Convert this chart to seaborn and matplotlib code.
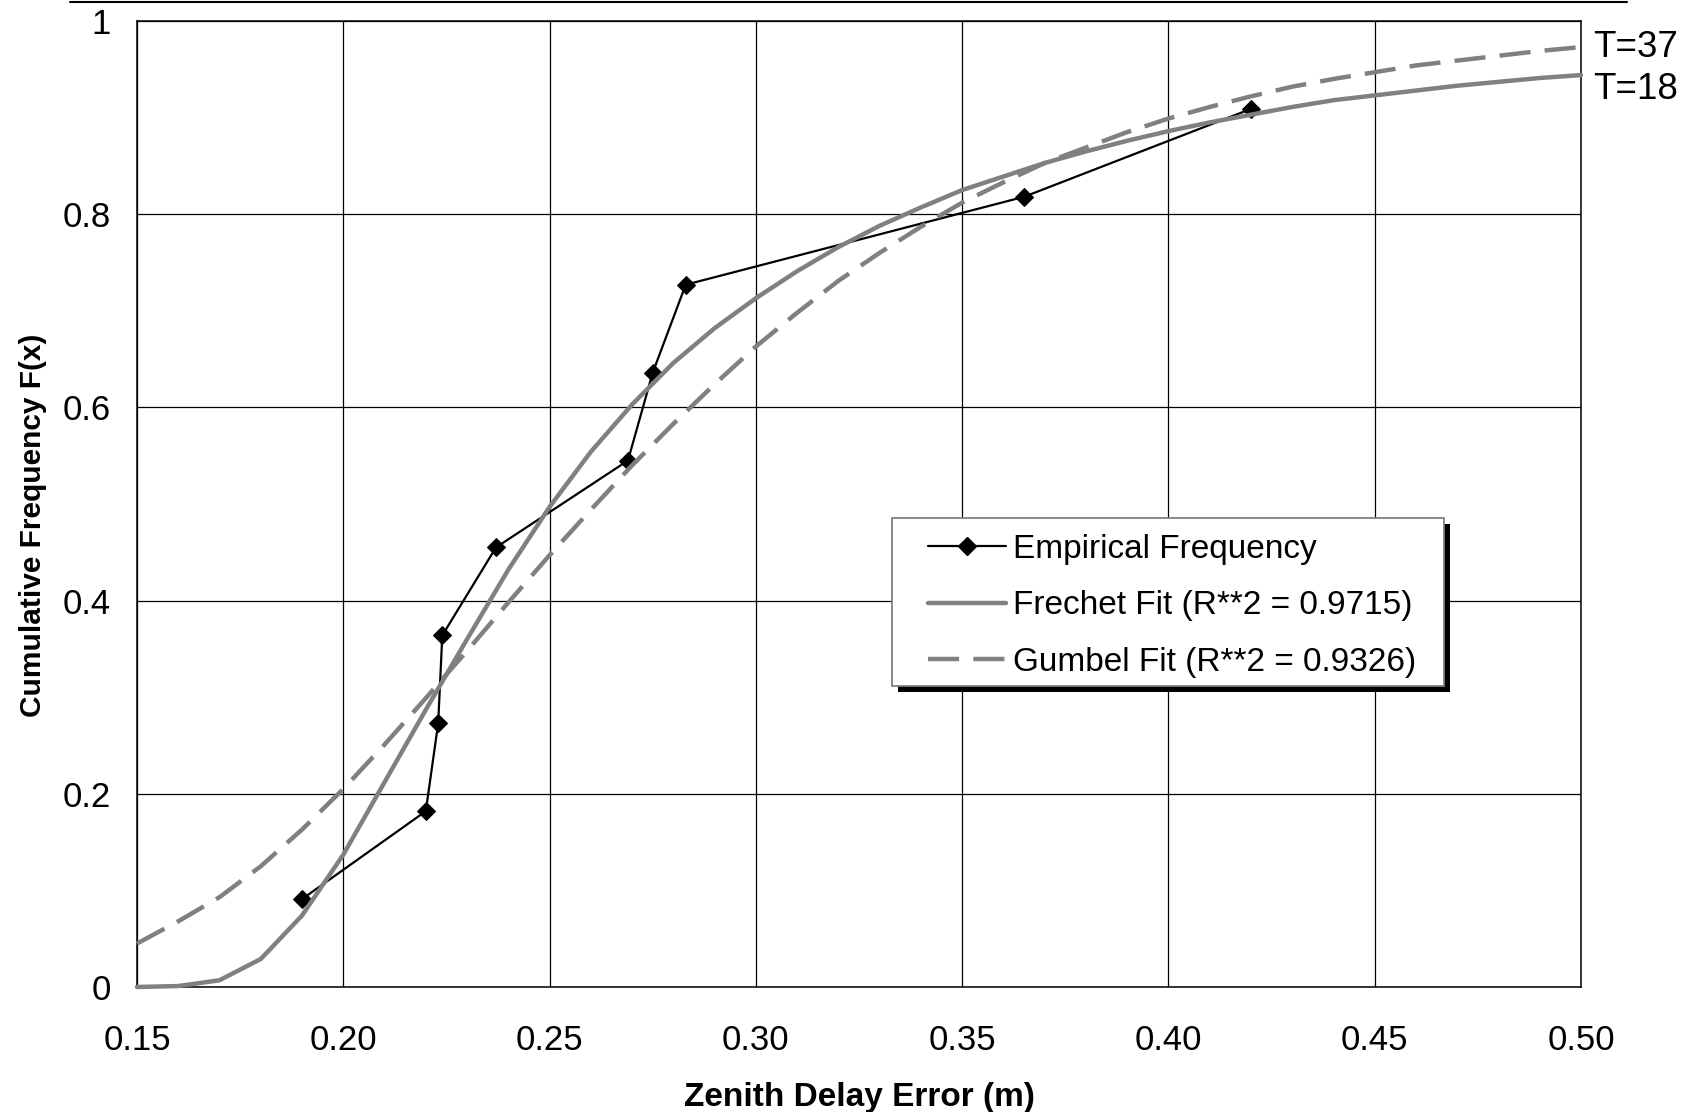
import matplotlib
matplotlib.use("Agg")
import matplotlib.pyplot as plt
from matplotlib.lines import Line2D
from matplotlib.patches import Rectangle
import seaborn as sns

# Zenith delay error grid (m) at which the fitted distributions are tabulated
zenith_grid = [0.15, 0.16, 0.17, 0.18, 0.19, 0.20, 0.21, 0.22, 0.23, 0.24,
               0.25, 0.26, 0.27, 0.28, 0.29, 0.30, 0.31, 0.32, 0.33, 0.34,
               0.35, 0.36, 0.37, 0.38, 0.39, 0.40, 0.41, 0.42, 0.43, 0.44,
               0.45, 0.46, 0.47, 0.48, 0.49, 0.50]

# Fitted cumulative distributions
frechet_cdf = [0.000, 0.001, 0.007, 0.029, 0.074, 0.137, 0.212, 0.287, 0.360, 0.432,
               0.497, 0.554, 0.603, 0.646, 0.682, 0.713, 0.741, 0.766, 0.788, 0.807,
               0.825, 0.839, 0.853, 0.865, 0.876, 0.886, 0.895, 0.903, 0.911, 0.918,
               0.923, 0.928, 0.933, 0.937, 0.941, 0.944]
gumbel_cdf = [0.045, 0.068, 0.093, 0.125, 0.163, 0.205, 0.251, 0.299, 0.348, 0.398,
              0.447, 0.494, 0.540, 0.583, 0.624, 0.663, 0.698, 0.731, 0.760, 0.787,
              0.812, 0.833, 0.853, 0.869, 0.885, 0.899, 0.911, 0.922, 0.932, 0.940,
              0.947, 0.954, 0.959, 0.964, 0.969, 0.973]

# Empirical cumulative frequency of the observed extremes
empirical_x = [0.190, 0.220, 0.223, 0.224, 0.237, 0.269, 0.275, 0.283, 0.365, 0.420]
empirical_f = [0.091, 0.182, 0.273, 0.364, 0.455, 0.545, 0.636, 0.727, 0.818, 0.909]

series_labels = ["Empirical Frequency",
                 "Frechet Fit (R**2 = 0.9715)",
                 "Gumbel Fit (R**2 = 0.9326)"]
return_period_labels = ["T=37", "T=18"]

x_ticks = [0.15, 0.20, 0.25, 0.30, 0.35, 0.40, 0.45, 0.50]
y_ticks = [0.0, 0.2, 0.4, 0.6, 0.8, 1.0]
y_tick_labels = ["0", "0.2", "0.4", "0.6", "0.8", "1"]

sns.set_theme(style="white")
plt.rcParams["font.family"] = ["Liberation Sans", "DejaVu Sans"]
plt.rcParams["text.color"] = "black"
plt.rcParams["axes.labelcolor"] = "black"
plt.rcParams["xtick.color"] = "black"
plt.rcParams["ytick.color"] = "black"

W, H = 1692, 1112
AX_L, AX_R, AX_T, AX_B = 137, 1581, 21, 987
fig = plt.figure(figsize=(W / 100, H / 100), dpi=100)
fig.patch.set_facecolor("white")
ax = fig.add_axes([AX_L / W, 1 - AX_B / H, (AX_R - AX_L) / W, (AX_B - AX_T) / H])
ax.set_facecolor("white")


def px_to_axes(px, py):
    """Pixel position on the canvas (origin top-left) -> axes fraction."""
    return (px - AX_L) / (AX_R - AX_L), (AX_B - py) / (AX_B - AX_T)


grey = "#808080"
line_w = 3.2
dash = (7, 3.2)

sns.lineplot(x=empirical_x, y=empirical_f, ax=ax, color="black", lw=1.6,
             marker="D", markersize=9.5, markeredgecolor="black",
             markerfacecolor="black", clip_on=False, sort=False, zorder=3)
sns.lineplot(x=zenith_grid, y=frechet_cdf, ax=ax, color=grey, lw=line_w,
             clip_on=False, zorder=4)
sns.lineplot(x=zenith_grid, y=gumbel_cdf, ax=ax, color=grey, lw=line_w,
             clip_on=False, zorder=4)
ax.lines[-1].set_dashes(dash)

ax.set_xlim(0.15, 0.50)
ax.set_ylim(0.0, 1.0)
ax.set_xticks(x_ticks)
ax.set_xticklabels([f"{t:.2f}" for t in x_ticks])
ax.set_yticks(y_ticks)
ax.set_yticklabels(y_tick_labels)

ax.grid(True, color="black", lw=0.9)
ax.set_axisbelow(True)
for s in ax.spines.values():
    s.set_visible(True)
    s.set_color("black")
    s.set_linewidth(1.1)

ax.tick_params(axis="both", which="major", direction="out", length=8.6,
               width=0.9, color="black", labelsize=25)
ax.tick_params(axis="x", pad=18)
ax.tick_params(axis="y", pad=10)

ax.set_xlabel("Zenith Delay Error (m)", fontsize=24, fontweight="bold", labelpad=18)
ax.set_ylabel("Cumulative Frequency F(x)", fontsize=21.5, fontweight="bold")
ax.yaxis.set_label_coords(*px_to_axes(47, 525))

# Return-period labels at the right end of each fitted curve
ax.annotate(return_period_labels[0], xy=(zenith_grid[-1], gumbel_cdf[-1]),
            xytext=(9, 0), textcoords="offset points", ha="left", va="center",
            fontsize=26.5, annotation_clip=False)
ax.annotate(return_period_labels[1], xy=(zenith_grid[-1], frechet_cdf[-1]),
            xytext=(9, -10.5), textcoords="offset points", ha="left", va="center",
            fontsize=26.5, annotation_clip=False)

# Legend panel: white box with a grey border and a solid black drop shadow
box_l, box_t, box_r, box_b = 892, 518, 1444, 686
x0, y0 = px_to_axes(box_l, box_b)
x1, y1 = px_to_axes(box_r, box_t)
sx, sy = 6 / (AX_R - AX_L), 6 / (AX_B - AX_T)
ax.add_patch(Rectangle((x0 + sx, y0 - sy), x1 - x0, y1 - y0, transform=ax.transAxes,
                       facecolor="black", edgecolor="black", lw=0, zorder=5))
ax.add_patch(Rectangle((x0, y0), x1 - x0, y1 - y0, transform=ax.transAxes,
                       facecolor="white", edgecolor=grey, lw=1.3, zorder=5.1))

handles = [
    Line2D([], [], color="black", lw=1.6, marker="D", markersize=9.5),
    Line2D([], [], color=grey, lw=line_w),
    Line2D([], [], color=grey, lw=line_w, dashes=dash),
]
leg = ax.legend(handles, series_labels, loc="upper left",
                bbox_to_anchor=px_to_axes(928, 534),
                borderaxespad=0, borderpad=0, fontsize=24, frameon=False,
                handlelength=2.35, handletextpad=0.2, labelspacing=0.76)
leg.set_zorder(6)

# Rule across the top of the figure
fig.add_artist(Line2D([70 / W, 1627 / W], [1 - 1.5 / H, 1 - 1.5 / H],
                      color="black", lw=1.5, transform=fig.transFigure))

fig.savefig("out.png", dpi=100, facecolor="white")
